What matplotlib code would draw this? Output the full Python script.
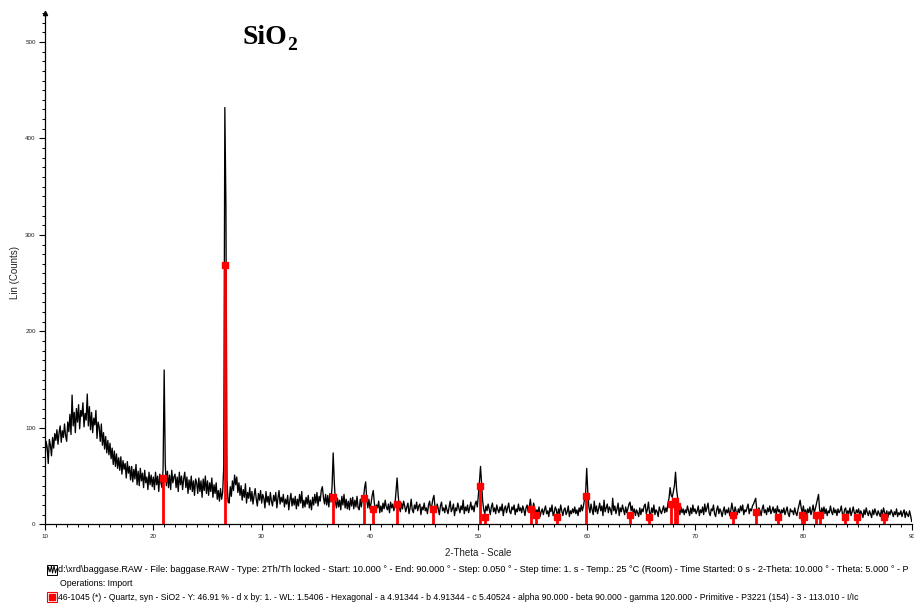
import numpy as np
import matplotlib
matplotlib.use("Agg")
import matplotlib.pyplot as plt
from matplotlib.ticker import MultipleLocator
from matplotlib.patches import Rectangle

plt.rcParams['font.family'] = ['Liberation Sans', 'DejaVu Sans']

# Scan settings: 2Th/Th, 10-90 deg, counts listed every 0.1 deg
scan_start = 10.0
scan_step = 0.1

# Measured intensity (Lin counts), one row per degree (d.0 ... d.9)
counts = [
    68, 86, 80, 63, 88, 82, 71, 90, 79, 94,          # 10
    87, 98, 83, 95, 102, 85, 97, 90, 104, 92,        # 11
    86, 106, 96, 114, 93, 134, 102, 116, 95, 120,    # 12
    106, 124, 99, 118, 112, 126, 101, 115, 108, 135, # 13
    102, 122, 98, 116, 95, 110, 103, 118, 89, 106,   # 14
    101, 86, 104, 82, 95, 78, 91, 74, 87, 72,        # 15
    84, 68, 79, 62, 76, 60, 73, 58, 69, 56,          # 16
    70, 52, 66, 57, 63, 48, 65, 53, 60, 46,          # 17
    60, 44, 57, 47, 62, 41, 55, 40, 58, 45,          # 18
    53, 38, 56, 43, 49, 36, 54, 41, 51, 39,          # 19
    49, 36, 54, 41, 50, 34, 52, 43, 38, 57,          # 20
    160, 63, 40, 55, 38, 51, 36, 56, 43, 49,         # 21
    52, 38, 49, 34, 54, 41, 50, 36, 47, 54,          # 22
    38, 49, 32, 46, 36, 50, 34, 45, 30, 47,          # 23
    43, 32, 48, 34, 45, 28, 47, 35, 50, 32,          # 24
    45, 30, 43, 34, 48, 28, 41, 32, 43, 26,          # 25
    35, 24, 37, 26, 33, 60, 432, 330, 45, 23,        # 26
    22, 39, 29, 45, 35, 51, 41, 49, 33, 43,          # 27
    30, 40, 25, 36, 28, 42, 22, 33, 27, 38,          # 28
    24, 34, 21, 30, 37, 26, 19, 32, 25, 35,          # 29
    22, 31, 27, 17, 34, 23, 29, 20, 33, 24,          # 30
    19, 30, 24, 33, 17, 27, 35, 21, 28, 23,          # 31
    31, 18, 26, 21, 30, 15, 25, 32, 19, 27,          # 32
    20, 29, 16, 26, 19, 31, 22, 34, 17, 25,          # 33
    18, 28, 21, 30, 17, 25, 15, 28, 20, 31,          # 34
    22, 33, 19, 29, 24, 35, 39, 28, 21, 31,          # 35
    20, 30, 18, 32, 23, 40, 74, 44, 24, 17,          # 36
    27, 18, 25, 15, 29, 20, 31, 17, 26, 16,          # 37
    24, 15, 27, 19, 28, 16, 25, 18, 29, 17,          # 38
    15, 26, 18, 28, 27, 38, 44, 25, 17, 26,          # 39
    16, 22, 30, 35, 22, 14, 20, 17, 24, 12,          # 40
    19, 13, 22, 16, 25, 18, 15, 21, 12, 23,          # 41
    17, 21, 14, 20, 34, 48, 30, 18, 13, 22,          # 42
    16, 24, 19, 13, 18, 22, 11, 17, 26, 15,          # 43
    12, 20, 16, 23, 14, 19, 21, 10, 18, 15,          # 44
    22, 14, 17, 11, 20, 24, 15, 19, 26, 30,          # 45
    18, 13, 21, 16, 10, 19, 23, 14, 17, 12,          # 46
    20, 15, 11, 18, 24, 13, 16, 21, 9, 17,           # 47
    14, 22, 17, 12, 19, 15, 25, 11, 18, 14,          # 48
    20, 12, 17, 23, 15, 19, 13, 21, 24, 18,          # 49
    30, 44, 60, 42, 24, 15, 11, 19, 14, 21,          # 50
    16, 10, 18, 22, 13, 17, 11, 20, 15, 12,          # 51
    18, 14, 21, 9, 16, 19, 12, 17, 22, 13,           # 52
    11, 18, 15, 20, 10, 16, 13, 21, 14, 17,          # 53
    12, 19, 15, 9, 17, 20, 13, 18, 26, 16,           # 54
    14, 22, 17, 10, 15, 12, 18, 8, 13, 16,           # 55
    10, 15, 19, 11, 14, 8, 17, 13, 20, 9,            # 56
    12, 18, 15, 7, 16, 11, 20, 14, 9, 15,            # 57
    17, 10, 13, 19, 8, 14, 11, 16, 12, 18,           # 58
    11, 15, 9, 17, 13, 20, 14, 19, 26, 32,           # 59
    58, 34, 18, 12, 21, 15, 10, 24, 13, 19,          # 60
    11, 16, 22, 14, 19, 9, 25, 13, 17, 21,           # 61
    12, 18, 15, 10, 27, 14, 19, 11, 16, 22,          # 62
    9, 17, 13, 20, 15, 10, 18, 12, 16, 21,           # 63
    23, 14, 19, 11, 16, 9, 15, 12, 8, 17,            # 64
    10, 16, 13, 19, 21, 11, 15, 23, 12, 9,           # 65
    17, 12, 20, 10, 15, 13, 8, 18, 14, 11,           # 66
    15, 19, 12, 17, 13, 22, 27, 38, 30, 28,          # 67
    34, 40, 54, 36, 27, 15, 10, 18, 12, 16,          # 68
    10, 15, 12, 19, 14, 9, 17, 11, 20, 13,           # 69
    16, 11, 14, 19, 9, 15, 12, 18, 10, 21,           # 70
    13, 17, 22, 12, 9, 16, 14, 20, 11, 8,            # 71
    15, 19, 11, 16, 13, 8, 14, 18, 10, 15,           # 72
    12, 17, 9, 14, 22, 15, 11, 18, 13, 10,           # 73
    16, 12, 19, 14, 20, 10, 15, 13, 17, 21,          # 74
    11, 16, 14, 19, 21, 24, 27, 15, 12, 17,          # 75
    14, 9, 16, 20, 12, 15, 10, 17, 13, 19,           # 76
    11, 14, 18, 12, 16, 10, 19, 13, 15, 9,           # 77
    15, 12, 17, 10, 14, 18, 11, 8, 16, 13,           # 78
    14, 10, 17, 12, 9, 15, 20, 25, 17, 12,           # 79
    19, 11, 15, 9, 16, 12, 18, 10, 14, 20,           # 80
    12, 16, 21, 26, 31, 15, 10, 17, 12, 18,          # 81
    11, 16, 9, 14, 12, 19, 13, 10, 17, 12,           # 82
    15, 9, 16, 12, 14, 19, 11, 8, 15, 17,            # 83
    10, 14, 11, 17, 9, 13, 18, 12, 10, 15,           # 84
    12, 16, 9, 14, 11, 7, 15, 10, 17, 12,            # 85
    9, 14, 11, 7, 15, 10, 16, 12, 9, 14,             # 86
    11, 8, 15, 10, 17, 12, 9, 14, 7, 13,             # 87
    10, 15, 12, 8, 13, 10, 16, 8, 12, 10,            # 88
    14, 8, 12, 15, 7, 13, 10, 8, 14, 9,              # 89
    3,                                               # 90
]

# Reference pattern 46-1045 Quartz, syn: peak positions (2-theta) and plotted heights
quartz_pos = [20.86, 26.64, 36.54, 39.47, 40.29, 42.45, 45.79, 50.14, 50.62,
              54.87, 55.33, 57.24, 59.96, 63.99, 65.79, 67.74, 68.14, 68.31,
              73.47, 75.66, 77.67, 79.88, 80.04, 81.17, 81.49, 83.84, 84.95, 87.44]
quartz_h = [48, 269, 28, 27, 16, 21, 16, 40, 8,
            16, 10, 8, 29, 10, 8, 21, 24, 19,
            10, 13, 8, 10, 8, 10, 10, 8, 8, 8]

x_ticks = [10, 20, 30, 40, 50, 60, 70, 80, 90]
y_ticks = [0, 100, 200, 300, 400, 500]

scan_line = ("d:\\xrd\\baggase.RAW - File: baggase.RAW - Type: 2Th/Th locked - Start: 10.000 \u00b0 - "
             "End: 90.000 \u00b0 - Step: 0.050 \u00b0 - Step time: 1. s - Temp.: 25 \u00b0C (Room) - "
             "Time Started: 0 s - 2-Theta: 10.000 \u00b0 - Theta: 5.000 \u00b0 - P")
ops_line = "Operations: Import"
ref_line = ("46-1045 (*) - Quartz, syn - SiO2 - Y: 46.91 % - d x by: 1. - WL: 1.5406 - Hexagonal - "
            "a 4.91344 - b 4.91344 - c 5.40524 - alpha 90.000 - beta 90.000 - gamma 120.000 - "
            "Primitive - P3221 (154) - 3 - 113.010 - I/Ic")

W, H = 914, 608
fig = plt.figure(figsize=(W / 100, H / 100), dpi=100)
ax = fig.add_axes([45 / W, (H - 524.3) / H, (911.7 - 45) / W, (524.3 - 13) / H])

two_theta = scan_start + scan_step * np.arange(len(counts))
ax.plot(two_theta, counts, color='black', lw=0.95, zorder=2)

ax.vlines(quartz_pos, 0, quartz_h, color='#ff0000', lw=2.0, zorder=3)
ax.plot(quartz_pos, quartz_h, 's', color='#ff0000', ms=4, mec='#ff0000', zorder=4)

ax.set_xlim(10, 90)
ax.set_ylim(0, 530)
ax.set_xticks(x_ticks)
ax.set_yticks(y_ticks)
ax.xaxis.set_minor_locator(MultipleLocator(1))
ax.yaxis.set_minor_locator(MultipleLocator(10))
for s in ('top', 'right'):
    ax.spines[s].set_visible(False)
for s in ('left', 'bottom'):
    ax.spines[s].set_linewidth(0.9)
ax.tick_params(which='major', length=4.2, width=0.8, labelsize=4.5, pad=2.5,
               labelcolor='#222222')
ax.tick_params(which='minor', length=2.3, width=0.7)

# axis end arrow
ax.plot([0], [1], marker='^', color='black', ms=3, transform=ax.transAxes,
        clip_on=False, zorder=5)

fig.text(15 / W, 1 - 272 / H, "Lin (Counts)", fontsize=7, rotation=90,
         ha='center', va='center', color='#222222')
fig.text(478 / W, 1 - 553 / H, "2-Theta - Scale", fontsize=7, ha='center',
         va='center', color='#222222')

# Title: SiO2 with subscript
fig.text(242 / W, 1 - 43.5 / H, "SiO", fontsize=20, fontweight='bold',
         family='Liberation Serif', ha='left', va='baseline')
fig.text(287 / W, 1 - 50.5 / H, "2", fontsize=14, fontweight='bold',
         family='Liberation Serif', ha='left', va='baseline')

# Legend lines
fig.text(58 / W, 1 - 570 / H, scan_line, fontsize=6.55, va='center', ha='left')
fig.text(60 / W, 1 - 583.5 / H, ops_line, fontsize=6.3, va='center', ha='left')
fig.text(58 / W, 1 - 597 / H, ref_line, fontsize=6.2, va='center', ha='left')

# legend icons (figure pixel coordinates)
icon_ax = fig.add_axes([0, 0, 1, 1], zorder=-1)
icon_ax.set_xlim(0, W)
icon_ax.set_ylim(H, 0)
icon_ax.axis('off')
icon_ax.add_patch(Rectangle((46.5, 564.5), 10.5, 10.5, fill=False, ec='black', lw=0.7))
icon_ax.plot([47.5, 48.5, 50, 51.5, 52.5, 54, 55.5, 56.5],
             [573, 567, 572, 566, 573, 566, 573, 569], color='black', lw=0.7)
icon_ax.add_patch(Rectangle((46.5, 591.5), 10.5, 10.5, fill=False, ec='#ff0000', lw=0.8))
icon_ax.add_patch(Rectangle((49, 594), 5.5, 5.5, color='#ff0000'))

fig.savefig("out.png", dpi=100)
